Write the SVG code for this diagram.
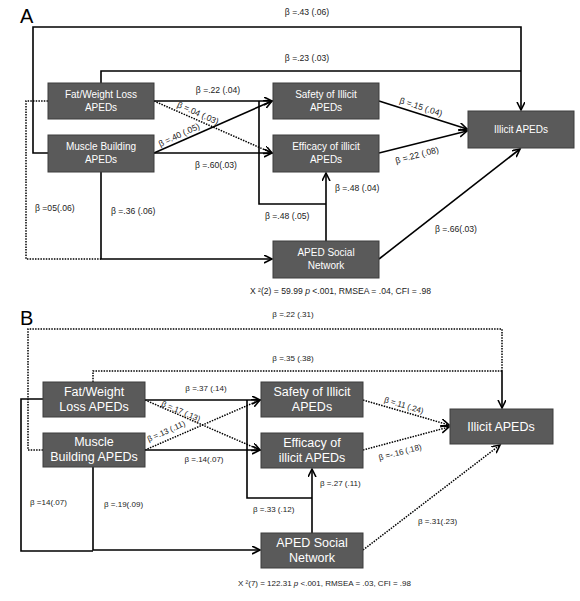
<svg xmlns="http://www.w3.org/2000/svg" width="580" height="601" viewBox="0 0 580 601">
<defs>
<marker id="arr" markerUnits="userSpaceOnUse" markerWidth="10" markerHeight="10" refX="8" refY="4" orient="auto">
<path d="M0,0 L8,4 L0,8" fill="none" stroke="#000" stroke-width="1.6" stroke-dasharray="none"/>
</marker>
<style>
.bx{fill:#5a5a5a;stroke:#3c3c3c;stroke-width:1}
.ta{font-family:"Liberation Sans",Arial,sans-serif;font-size:10px;fill:#fff;text-anchor:middle}
.tb{font-family:"Liberation Sans",Arial,sans-serif;font-size:12.5px;fill:#fff;text-anchor:middle}
.la{font-family:"Liberation Sans",Arial,sans-serif;font-size:8.6px;fill:#222}
.lb{font-family:"Liberation Sans",Arial,sans-serif;font-size:8px;fill:#222}
.m{text-anchor:middle}
.pl{font-family:"Liberation Sans",Arial,sans-serif;font-size:20px;fill:#000}
.s{fill:none;stroke:#000;stroke-width:1.6}
.d{fill:none;stroke:#000;stroke-width:1.5;stroke-dasharray:1.5 1.2}
</style>
</defs>
<rect width="580" height="601" fill="#fff"/>
<text class="pl" x="20" y="23">A</text>
<text class="pl" x="20" y="325">B</text>

<g id="connectors-A">
<path class="s" d="M48,153 H33 V27 H521 V110" marker-end="url(#arr)"/>
<path class="s" d="M101,83 V71 H521"/>
<path class="s" d="M154,101 H272" marker-end="url(#arr)"/>
<path class="d" d="M154,101 L272,153" marker-end="url(#arr)"/>
<path class="s" d="M154,153 L272,101" marker-end="url(#arr)"/>
<path class="s" d="M154,153 H272" marker-end="url(#arr)"/>
<path class="s" d="M259,101 V204 H326"/>
<path class="s" d="M326,241 V173" marker-end="url(#arr)"/>
<path class="s" d="M379,101 L467,129" marker-end="url(#arr)"/>
<path class="s" d="M379,153 L467,131" marker-end="url(#arr)"/>
<path class="s" d="M379,259 L520,149" marker-end="url(#arr)"/>
<path class="s" d="M101,172 V259 H272" marker-end="url(#arr)"/>
<path class="d" d="M48,101 H26 V259 H101"/>
</g>

<g id="labels-A">
<text class="la m" x="307" y="15">β =.43 (.06)</text>
<text class="la m" x="307" y="61">β =.23 (.03)</text>
<text class="la m" x="218" y="93">β =.22 (.04)</text>
<text class="la m" x="216" y="168">β =.60(.03)</text>
<text class="la" x="335" y="191">β =.48 (.04)</text>
<text class="la" x="265" y="219">β =.48 (.05)</text>
<text class="la" x="111" y="214">β =.36 (.06)</text>
<text class="la" x="35" y="211">β =05(.06)</text>
<text class="la" x="435" y="232">β =.66(.03)</text>
<text class="la m" transform="translate(198,113) rotate(24)" y="3">β =.04 (.03)</text>
<text class="la m" transform="translate(179,135) rotate(-25)" y="3">β =.40 (.05)</text>
<text class="la m" transform="translate(421,107) rotate(18)" y="3">β =.15 (.04)</text>
<text class="la m" transform="translate(417,155) rotate(-15)" y="3">β =.22 (.08)</text>
<text class="la" x="250" y="294">X ²(2) = 59.99 <tspan font-style="italic">p</tspan> &lt;.001, RMSEA = .04, CFI = .98</text>
</g>

<g id="fatA"><rect class="bx" x="48" y="83" width="106" height="36"/><text class="ta" x="101" y="98">Fat/Weight Loss</text><text class="ta" x="101" y="111">APEDs</text></g>
<g id="muscleA"><rect class="bx" x="48" y="135" width="106" height="37"/><text class="ta" x="101" y="150">Muscle Building</text><text class="ta" x="101" y="163">APEDs</text></g>
<g id="safetyA"><rect class="bx" x="273" y="83" width="106" height="36"/><text class="ta" x="326" y="98">Safety of Illicit</text><text class="ta" x="326" y="111">APEDs</text></g>
<g id="efficacyA"><rect class="bx" x="273" y="135" width="106" height="37"/><text class="ta" x="326" y="150">Efficacy of illicit</text><text class="ta" x="326" y="163">APEDs</text></g>
<g id="illicitA"><rect class="bx" x="468" y="111" width="106" height="37"/><text class="ta" x="521" y="133">Illicit APEDs</text></g>
<g id="socialA"><rect class="bx" x="273" y="241" width="106" height="37"/><text class="ta" x="326" y="256">APED Social</text><text class="ta" x="326" y="269">Network</text></g>

<g id="connectors-B">
<path class="d" d="M43,450 H28 V329 H502 V371"/>
<path class="d" d="M93,382 V371 H502"/>
<path class="s" d="M502,371 V408" marker-end="url(#arr)"/>
<path class="s" d="M145,400 H260" marker-end="url(#arr)"/>
<path class="d" d="M145,400 L260,450" marker-end="url(#arr)"/>
<path class="d" d="M145,450 L260,400" marker-end="url(#arr)"/>
<path class="s" d="M145,450 H260" marker-end="url(#arr)"/>
<path class="s" d="M247,400 V498 H312"/>
<path class="s" d="M312,533 V469" marker-end="url(#arr)"/>
<path class="d" d="M363,400 L449,425" marker-end="url(#arr)"/>
<path class="d" d="M363,450 L449,427" marker-end="url(#arr)"/>
<path class="d" d="M363,550 L500,445" marker-end="url(#arr)"/>
<path class="s" d="M93,467 V550 H260" marker-end="url(#arr)"/>
<path class="s" d="M43,399 H21 V551 H93"/>
</g>

<g id="labels-B">
<text class="lb m" x="293" y="317">β =.22 (.31)</text>
<text class="lb m" x="293" y="361">β =.35 (.38)</text>
<text class="lb m" x="206" y="391">β =.37 (.14)</text>
<text class="lb m" x="204" y="462">β =.14(.07)</text>
<text class="lb" x="320" y="486">β =.27 (.11)</text>
<text class="lb" x="253" y="512">β =.33 (.12)</text>
<text class="lb" x="30" y="505">β =14(.07)</text>
<text class="lb" x="104" y="507">β =.19(.09)</text>
<text class="lb" x="418" y="524">β =.31(.23)</text>
<text class="lb m" transform="translate(181,411) rotate(23)" y="3">β =.17 (.13)</text>
<text class="lb m" transform="translate(166,431) rotate(-24)" y="3">β =.13 (.11)</text>
<text class="lb m" transform="translate(404,405) rotate(17)" y="3">β =.11 (.24)</text>
<text class="lb m" transform="translate(400,452) rotate(-15)" y="3">β =-.16 (.18)</text>
<text class="lb" x="238" y="586">X ²(7) = 122.31 <tspan font-style="italic">p</tspan> &lt;.001, RMSEA = .03, CFI = .98</text>
</g>

<g id="fatB"><rect class="bx" x="43" y="382" width="102" height="35"/><text class="tb" x="94" y="396">Fat/Weight</text><text class="tb" x="94" y="411">Loss APEDs</text></g>
<g id="muscleB"><rect class="bx" x="43" y="433" width="102" height="34"/><text class="tb" x="94" y="446">Muscle</text><text class="tb" x="94" y="461">Building APEDs</text></g>
<g id="safetyB"><rect class="bx" x="261" y="382" width="102" height="35"/><text class="tb" x="312" y="396">Safety of Illicit</text><text class="tb" x="312" y="411">APEDs</text></g>
<g id="efficacyB"><rect class="bx" x="261" y="433" width="102" height="35"/><text class="tb" x="312" y="447">Efficacy of</text><text class="tb" x="312" y="462">illicit APEDs</text></g>
<g id="illicitB"><rect class="bx" x="450" y="409" width="103" height="35"/><text class="tb" x="501" y="431">Illicit APEDs</text></g>
<g id="socialB"><rect class="bx" x="261" y="533" width="102" height="35"/><text class="tb" x="312" y="547">APED Social</text><text class="tb" x="312" y="562">Network</text></g>
</svg>
